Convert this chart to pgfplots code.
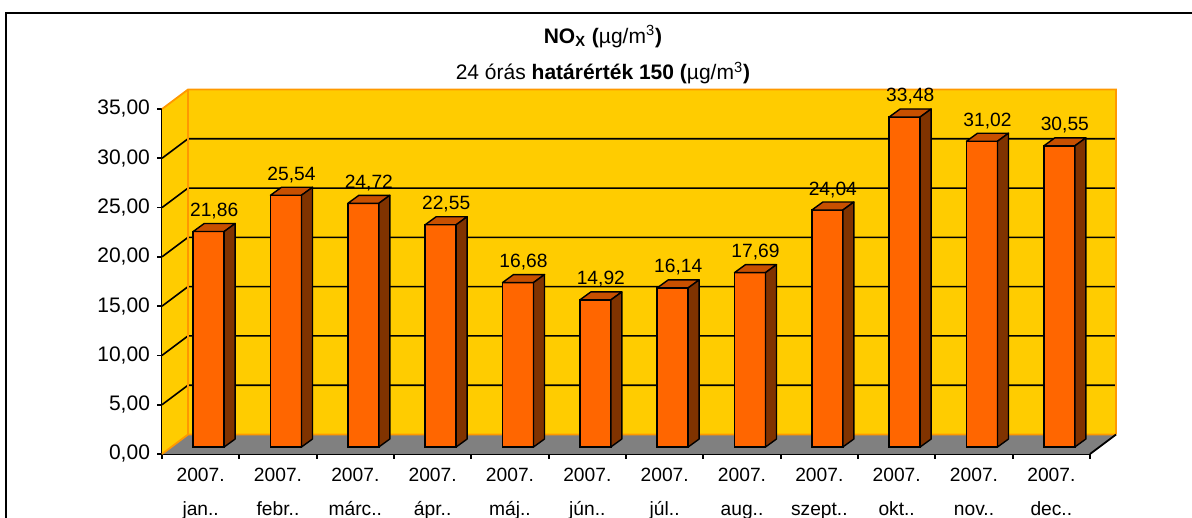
\documentclass[border=0pt]{standalone}
\usepackage{fontspec}
\setmainfont{Liberation Sans}
\usepackage{pgfplots}
\pgfplotsset{compat=1.18}
\usepackage{pgfplotstable}
\definecolor{wallyellow}{HTML}{FFCC00}
\definecolor{wallorange}{HTML}{FF9900}
\definecolor{floorgray}{HTML}{808080}
\definecolor{barfront}{HTML}{FF6600}
\definecolor{bartop}{HTML}{C85000}
\definecolor{barside}{HTML}{803300}
\pgfdeclareplotmark{nothing}{}
\tikzset{dep/.style={shift={(13pt,9.75pt)}}}
\pgfplotstableread{
x v
0.5 21.86
1.5 25.54
2.5 24.72
3.5 22.55
4.5 16.68
5.5 14.92
6.5 16.14
7.5 17.69
8.5 24.04
9.5 33.48
10.5 31.02
11.5 30.55
}\datatable
\begin{document}
\begin{tikzpicture}
\useasboundingbox (0,0) rectangle (596pt,259pt);
\draw[line width=1pt] (3pt,0) -- (3pt,252.5pt) -- (596pt,252.5pt);
\node[font=\fontsize{10.5}{12}\selectfont, anchor=base] at (301.5pt,237.35pt)
  {\bfseries NO\textsubscript{X} (\mdseries µg/m\textsuperscript{3}\bfseries )};
\node[font=\fontsize{10.5}{12}\selectfont, anchor=base] at (301.5pt,219pt)
  {24 órás \textbf{határérték 150 (}µg/m\textsuperscript{3}\textbf{)}};
\begin{axis}[
  at={(81pt,32pt)}, anchor=south west,
  scale only axis, width=464pt, height=172.5pt,
  xmin=0, xmax=12, ymin=0, ymax=35,
  clip=false,
  axis lines*=left,
  axis line style={black, line width=0.9pt},
  tick style={black, line width=0.9pt},
  tick align=outside, major tick length=2.5pt,
  xtick={0,...,12},
  x tick label as interval,
  xticklabels={{2007.\\jan..},{2007.\\febr..},{2007.\\márc..},{2007.\\ápr..},{2007.\\máj..},{2007.\\jún..},{2007.\\júl..},{2007.\\aug..},{2007.\\szept..},{2007.\\okt..},{2007.\\nov..},{2007.\\dec..}},
  xticklabel style={align=center, font=\fontsize{9.6}{17}\selectfont, yshift=-1pt},
  ytick={0,5,...,35},
  yticklabel style={font=\fontsize{10.5}{12}\selectfont},
  /pgf/number format/fixed,
  /pgf/number format/fixed zerofill,
  /pgf/number format/precision=2,
  /pgf/number format/use comma,
  /pgf/number format/assume math mode=true,
]
% back wall, left wall, floor
\fill[wallyellow] ([dep]axis cs:0,0) rectangle ([dep]axis cs:12,35);
\fill[wallyellow] (axis cs:0,0) -- (axis cs:0,35) -- ([dep]axis cs:0,35) -- ([dep]axis cs:0,0) -- cycle;
\fill[floorgray] (axis cs:0,0) -- (axis cs:12,0) -- ([dep]axis cs:12,0) -- ([dep]axis cs:0,0) -- cycle;
\pgfplotsinvokeforeach{5,10,15,20,25,30}{
  \draw[black, line width=0.8pt] (axis cs:0,#1) -- ([dep]axis cs:0,#1) -- ([dep]axis cs:12,#1);
}
\draw[wallorange, line width=0.9pt] (axis cs:0,35) -- ([dep]axis cs:0,35) -- ([dep]axis cs:12,35) -- ([dep]axis cs:12,0);
\draw[wallorange, line width=0.9pt] (axis cs:0,0) -- ([dep]axis cs:0,0) -- ([dep]axis cs:12,0);
\draw[wallorange, line width=0.9pt] ([dep]axis cs:0,0) -- ([dep]axis cs:0,35);
\draw[black, line width=0.9pt] (axis cs:12,0) -- ([dep]axis cs:12,0);
% bar front faces
\addplot[ybar, bar width=15.5pt, bar shift=4pt, fill=barfront, draw=black, line width=0.7pt, yshift=3.5pt]
  table[x=x, y=v] {\datatable};
% bar tops and sides from the same table
\pgfplotsinvokeforeach{0,...,11}{
  \pgfplotstablegetelem{#1}{v}\of\datatable
  \edef\temp{%
    \noexpand\filldraw[fill=bartop, draw=black, line width=0.7pt, line join=round]
      ([xshift=-3.75pt,yshift=3.5pt]axis cs:#1.5,\pgfplotsretval) --
      ([xshift=11.75pt,yshift=3.5pt]axis cs:#1.5,\pgfplotsretval) --
      ([xshift=17.25pt,yshift=7.5pt]axis cs:#1.5,\pgfplotsretval) --
      ([xshift=1.75pt,yshift=7.5pt]axis cs:#1.5,\pgfplotsretval) -- cycle;
    \noexpand\filldraw[fill=barside, draw=black, line width=0.7pt, line join=round]
      ([xshift=11.75pt,yshift=3.5pt]axis cs:#1.5,0) --
      ([xshift=11.75pt,yshift=3.5pt]axis cs:#1.5,\pgfplotsretval) --
      ([xshift=17.25pt,yshift=7.5pt]axis cs:#1.5,\pgfplotsretval) --
      ([xshift=17.25pt,yshift=7.5pt]axis cs:#1.5,0) -- cycle;
  }%
  \temp
}
% value labels
\addplot[only marks, mark=nothing, point meta=y,
  nodes near coords,
  every node near coord/.append style={anchor=base, xshift=6.75pt, yshift=11pt, font=\fontsize{9.6}{12}\selectfont, black},
] table[x=x, y=v] {\datatable};
\end{axis}
\end{tikzpicture}
\end{document}
